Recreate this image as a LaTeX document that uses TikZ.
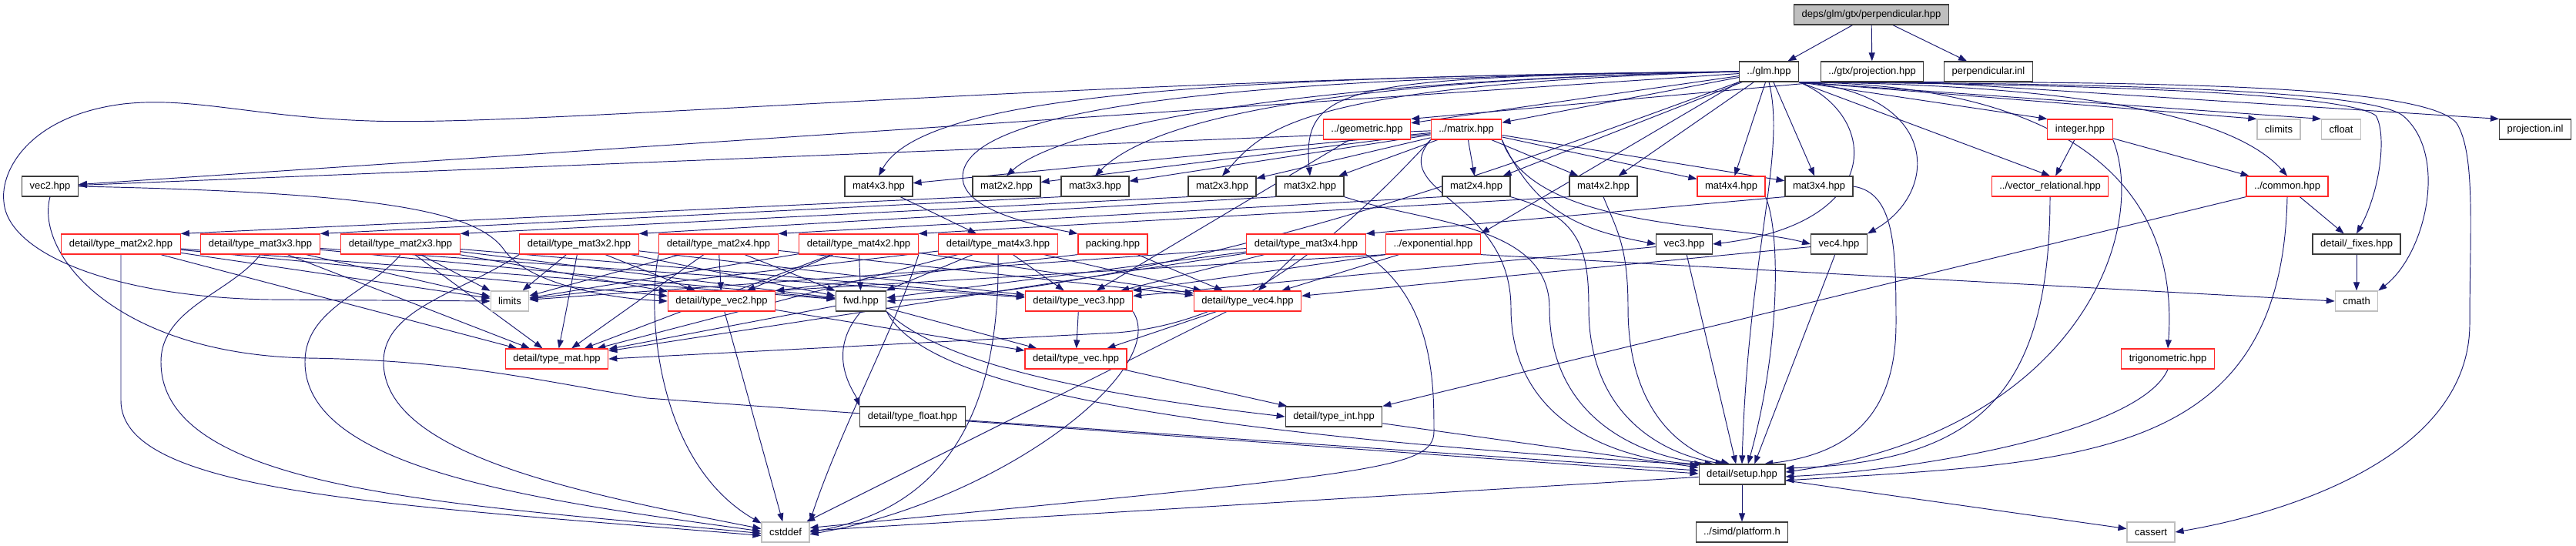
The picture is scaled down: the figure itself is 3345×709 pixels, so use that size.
\documentclass[tikz,border=0pt]{standalone}
\usepackage{fontspec}
\setmainfont{Liberation Sans}
\usepackage{tikz}
\usetikzlibrary{arrows.meta, backgrounds}
\definecolor{edgeblue}{RGB}{25,25,112}
\definecolor{boxline}{RGB}{60,60,60}
\definecolor{boxred}{RGB}{255,40,40}
\definecolor{boxgray}{RGB}{191,191,191}

\begin{document}
\begin{tikzpicture}[x=1pt, y=-1pt,
    file/.style={draw=boxline, fill=white, line width=1.2pt, minimum height=26pt,
                 inner xsep=10pt, inner ysep=0pt, font=\fontsize{13}{15}\selectfont},
    trunc/.style={file, draw=boxred},
    sysinc/.style={file, draw=boxgray},
    root/.style={file, fill=boxgray},
    inc/.style={draw=edgeblue, line width=0.95pt, -{Triangle[length=11pt, width=8pt]}}]
  \useasboundingbox (0,0) rectangle (3345,709);

  % files
  \node[root] (perp) at (2430,19) {deps/glm/gtx/perpendicular.hpp};
  \node[file] (glm) at (2297,93) {../glm.hpp};
  \node[file] (gtxproj) at (2431,93) {../gtx/projection.hpp};
  \node[file] (perpinl) at (2582,93) {perpendicular.inl};
  \node[trunc] (geometric) at (1775,168) {../geometric.hpp};
  \node[trunc] (matrix) at (1904,168) {../matrix.hpp};
  \node[trunc] (integer) at (2701,168) {integer.hpp};
  \node[sysinc] (climits) at (2959,168) {climits};
  \node[sysinc] (cfloat) at (3040,168) {cfloat};
  \node[file] (projinl) at (3292,168) {projection.inl};
  \node[file] (vec2) at (65,242) {vec2.hpp};
  \foreach \m/\x in {4x3/1141, 2x2/1307, 3x3/1422, 2x3/1587, 3x2/1701, 2x4/1917, 4x2/2082, 3x4/2362}
    \node[file] (mat\m) at (\x,242) {mat\m.hpp};
  \node[trunc] (mat4x4) at (2248,242) {mat4x4.hpp};
  \node[trunc] (vecrel) at (2662,242) {../vector\_relational.hpp};
  \node[trunc] (common) at (2970,242) {../common.hpp};
  \foreach \m/\x in {2x2/157, 3x3/338, 2x3/520, 3x2/752, 2x4/933, 4x2/1115, 4x3/1296, 3x4/1696}
    \node[trunc] (tmat\m) at (\x,317) {detail/type\_mat\m.hpp};
  \node[trunc] (packing) at (1445,317) {packing.hpp};
  \node[trunc] (exponential) at (1861,317) {../exponential.hpp};
  \node[file] (vec3) at (2187,317) {vec3.hpp};
  \node[file] (vec4) at (2388,317) {vec4.hpp};
  \node[file] (fixes) at (3060,317) {detail/\_fixes.hpp};
  \node[sysinc] (limits) at (662,391) {limits};
  \node[trunc] (tvec2) at (937,391) {detail/type\_vec2.hpp};
  \node[file] (fwd) at (1118,391) {fwd.hpp};
  \node[trunc] (tvec3) at (1401,391) {detail/type\_vec3.hpp};
  \node[trunc] (tvec4) at (1620,391) {detail/type\_vec4.hpp};
  \node[sysinc] (cmath) at (3060,391) {cmath};
  \node[trunc] (tmat) at (723,466) {detail/type\_mat.hpp};
  \node[trunc] (tvec) at (1397,466) {detail/type\_vec.hpp};
  \node[trunc] (trig) at (2815,466) {trigonometric.hpp};
  \node[file] (tfloat) at (1185,541) {detail/type\_float.hpp};
  \node[file] (tint) at (1732,541) {detail/type\_int.hpp};
  \node[file] (setup) at (2262,616) {detail/setup.hpp};
  \node[sysinc] (cstddef) at (1020,691) {cstddef};
  \node[file] (platform) at (2262,691) {../simd/platform.h};
  \node[sysinc] (cassert) at (2793,691) {cassert};

  % includes
  \begin{scope}[on background layer]
    \fill[white] (0,0) rectangle (3345,709);
    \foreach \a/\b in {perp/glm, perp/gtxproj, perp/perpinl, glm/geometric, glm/matrix,
        glm/vec2, glm/mat2x4, glm/mat4x2, glm/mat4x4, glm/mat3x4,
        matrix/vec2, matrix/mat4x3, matrix/mat2x2, matrix/mat3x3, matrix/mat2x3, matrix/mat3x2,
        matrix/mat2x4, matrix/mat4x2, matrix/mat4x4, matrix/mat3x4,
        integer/vecrel, integer/common, common/fixes, fixes/cmath,
        exponential/tvec4, geometric/tvec3, packing/tvec4,
        vec3/tvec3, vec4/tvec4, mat4x3/tmat4x3,
        fwd/tvec, fwd/tmat, tvec2/tvec, tvec2/cstddef, tvec3/tvec, tvec4/tvec, tvec4/cstddef,
        tvec/tint, setup/platform, setup/cassert, setup/cstddef}
      \draw[inc] (\a) -- (\b);
    \foreach \m in {2x2, 3x3, 2x3, 3x2, 2x4, 4x2, 3x4}
      \draw[inc] (mat\m.south west) -- (tmat\m.north east);
    \foreach \m in {2x2, 3x3, 2x3, 3x2, 2x4, 4x2, 4x3, 3x4} {
      \draw[inc] (tmat\m) -- (fwd);
      \draw[inc] (tmat\m) -- (tmat);
      \draw[inc] (tmat\m) -- (limits);
    }
    \foreach \m/\v in {2x2/2, 3x3/3, 2x3/2, 2x3/3, 3x2/2, 3x2/3, 2x4/2, 2x4/4,
        4x2/2, 4x2/4, 4x3/3, 4x3/4, 3x4/3, 3x4/4}
      \draw[inc] (tmat\m) -- (tvec\v);

    \draw[inc] (glm.south west) -- (exponential.north east);
    \draw[inc] (glm.south east) -- (integer.north west);
    \draw[inc] (glm.south east) -- (climits.north west);
    \draw[inc] (glm.south east) -- (cfloat.north west);
    \draw[inc] (glm.south east) -- (vecrel.north);
    \draw[inc] (gtxproj.south west) -- (geometric.north east);
    \draw[inc] (gtxproj.south east) -- (projinl.north west);
    \draw[inc] (exponential.south west) -- (tvec2.north east);
    \draw[inc] (exponential.south west) -- (tvec3.north east);
    \draw[inc] (exponential.south east) -- (cmath.west);
    \draw[inc] (packing.south west) -- (tvec2.north east);
    \draw[inc] (common.south west) -- (tint.north east);
    \draw[inc] (vec3) -- (setup.120);
    \draw[inc] (vec4) -- (setup.40);
    \draw[inc] (tfloat) -- (setup.175);
    \draw[inc] (tint) -- (setup.171);

    % long ways round
    \draw[inc] (glm.west) .. controls (1400,100) and (700,165) .. (480,157)
      .. controls (330,152) and (250,125) .. (160,135)
      .. controls (40,150) and (0,220) .. (5,262)
      .. controls (10,330) and (150,386) .. (350,389) -- (limits.west);
    \draw[inc] (glm.west) .. controls (1600,100) and (1200,120) .. (mat4x3.north);
    \draw[inc] (glm.west) .. controls (1650,105) and (1370,170) .. (mat2x2.north);
    \draw[inc] (glm.west) .. controls (1650,105) and (1480,170) .. (mat3x3.north);
    \draw[inc] (glm.west) .. controls (1680,110) and (1640,170) .. (mat2x3.north);
    \draw[inc] (glm.west) .. controls (1750,100) and (1690,110) .. (mat3x2.north);
    \draw[inc] (glm.west) .. controls (1600,100) and (1250,140) .. (1250,230)
      .. controls (1250,270) and (1330,290) .. (packing.north west);
    \draw[inc] (glm.south west) .. controls (2000,200) and (1560,370) .. (fwd.east);
    \draw[inc] (glm.south east) .. controls (2440,150) and (2450,290) .. (vec3.east);
    \draw[inc] (glm.south east) .. controls (2520,120) and (2520,250) .. (vec4.north east);
    \draw[inc] (glm.south east) .. controls (2700,110) and (2900,150) .. (common.north);
    \draw[inc] (glm.south east) .. controls (2700,110) and (2830,250) .. (trig.north);
    \draw[inc] (glm.south east) .. controls (2800,110) and (3050,125) .. (3085,150)
      .. controls (3100,175) and (3090,250) .. (fixes.north);
    \draw[inc] (glm.south east) .. controls (2800,108) and (3080,120) .. (3120,150)
      .. controls (3180,200) and (3150,330) .. (cmath.north east);
    \draw[inc] (glm.south east) .. controls (2800,105) and (3150,110) .. (3190,160)
      .. controls (3215,200) and (3207,300) .. (3207,420)
      .. controls (3207,600) and (2950,670) .. (cassert.east);
    \draw[inc] (glm.south) .. controls (2320,200) and (2270,330) .. (setup.north);
    \draw[inc] (matrix.south east) .. controls (1995,280) and (2060,300) .. (vec3.west);
    \draw[inc] (matrix.south east) .. controls (1990,300) and (2250,290) .. (vec4.west);
    \draw[inc] (matrix.south west) .. controls (1720,330) and (1600,420) .. (1450,432) -- (tmat.east);
    \draw[inc] (matrix.south west) .. controls (1800,250) and (1962,260) .. (1962,400)
      .. controls (1962,560) and (2120,600) .. (setup.165);
    \draw[inc] (mat3x2.south east) .. controls (1850,290) and (2012,290) .. (2012,400)
      .. controls (2012,550) and (2140,595) .. (setup.160);
    \draw[inc] (mat2x4.south east) .. controls (2050,280) and (2063,320) .. (2063,400)
      .. controls (2063,540) and (2160,590) .. (setup.150);
    \draw[inc] (mat4x2.south) .. controls (2100,300) and (2114,320) .. (2114,400)
      .. controls (2114,530) and (2180,585) .. (setup.140);
    \draw[inc] (mat4x4.south east) .. controls (2312,300) and (2312,450) .. (setup.60);
    \draw[inc] (mat3x4.east) .. controls (2460,250) and (2462,320) .. (2462,420)
      .. controls (2462,540) and (2400,590) .. (setup.25);
    \draw[inc] (vecrel.south) .. controls (2662,520) and (2560,600) .. (setup.8);
    \draw[inc] (integer.south east) .. controls (2790,300) and (2700,560) .. (setup.3);
    \draw[inc] (trig.south) .. controls (2780,560) and (2500,610) .. (setup.-3);
    \draw[inc] (common.south) .. controls (2963,600) and (2700,600) .. (setup.-8);
    \draw[inc] (vec2.east) .. controls (500,250) and (620,275) .. (655,325)
      .. controls (690,372) and (800,388) .. (tvec2.west);
    \draw[inc] (vec2.south) .. controls (45,330) and (150,460) .. (400,465)
      .. controls (600,468) and (700,495) .. (840,517) -- (setup.179);
    \draw[inc] (fwd.south) .. controls (1070,460) and (1110,510) .. (tfloat.north west);
    \draw[inc] (fwd.south east) .. controls (1220,470) and (1400,510) .. (tint.west);
    \draw[inc] (fwd.south east) .. controls (1200,500) and (1500,560) .. (setup.168);
    \draw[inc] (tvec3.south east) .. controls (1520,480) and (1300,650) .. (cstddef.-5);
    \draw[inc] (tmat2x2.south) -- (157,520) .. controls (157,640) and (500,655) .. (cstddef.188);
    \draw[inc] (tmat3x3.south) .. controls (300,380) and (209,400) .. (209,470)
      .. controls (209,640) and (600,655) .. (cstddef.183);
    \draw[inc] (tmat2x3.south) .. controls (480,380) and (396,400) .. (396,470)
      .. controls (396,610) and (700,650) .. (cstddef.178);
    \draw[inc] (tmat3x2.south west) .. controls (600,380) and (498,400) .. (498,470)
      .. controls (498,590) and (750,640) .. (cstddef.172);
    \draw[inc] (tmat2x4.south west) .. controls (840,400) and (850,600) .. (cstddef.160);
    \draw[inc] (tmat4x2.south east) .. controls (1165,420) and (1090,560) .. (cstddef.north east);
    \draw[inc] (tmat4x3.south) .. controls (1300,570) and (1200,665) .. (cstddef.east);
    \draw[inc] (tmat3x4.south east) .. controls (1862,390) and (1862,500) .. (1862,560)
      .. controls (1862,610) and (1780,615) .. (cstddef.10);
  \end{scope}
\end{tikzpicture}
\end{document}
